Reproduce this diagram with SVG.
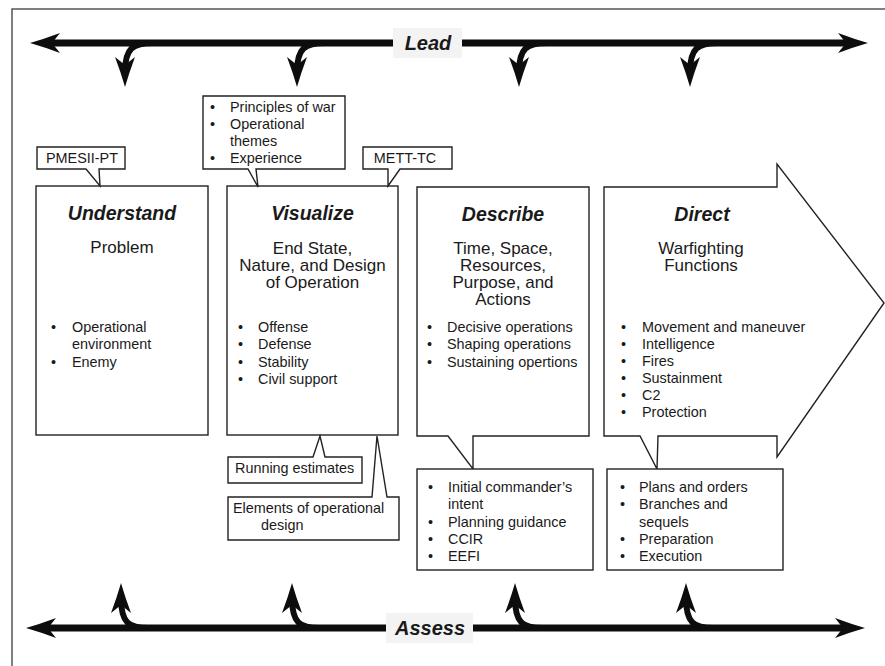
<svg xmlns="http://www.w3.org/2000/svg" xmlns:xlink="http://www.w3.org/1999/xlink" width="885" height="666" viewBox="0 0 885 666">
  <style>
    text { font-family: "Liberation Sans", Arial, sans-serif; fill: #1a1a1a; }
    .title { font-size: 19.5px; font-weight: bold; font-style: italic; text-anchor: middle; }
    .sub { font-size: 17px; text-anchor: middle; }
    .item { font-size: 14.4px; }
    .lbl { font-size: 14.4px; }
    .mid { text-anchor: middle; }
    .box { fill: #fff; stroke: #222; stroke-width: 1.4; stroke-linejoin: miter; }
    .frame { fill: #fff; stroke: #555; stroke-width: 1.5; }
    .shaft { fill: none; stroke: #0d0d0d; stroke-width: 7; }
    .stem { fill: none; stroke: #0d0d0d; stroke-width: 6; }
    .head { fill: #0d0d0d; }
    .tag { fill: #f3f3f3; }
    .cycle { font-size: 20px; font-weight: bold; font-style: italic; text-anchor: middle; }
  </style>
  <defs>
    <!-- arrowhead pointing along +x, tip at the origin -->
    <path id="head" class="head" d="M0,0 Q-14,-4 -30,-10 L-22,0 L-30,10 Q-14,4 0,0 Z"/>
  </defs>

  <rect class="frame" x="12" y="9" width="900" height="700"/>

  <!-- Lead / Assess cycle arrows -->
  <g id="connectors">
    <g id="lead-arrow">
      <line class="shaft" x1="52" y1="43" x2="393" y2="43"/>
      <line class="shaft" x1="462" y1="43" x2="846" y2="43"/>
      <use xlink:href="#head" transform="translate(30,43) rotate(180)"/>
      <use xlink:href="#head" transform="translate(868,43)"/>
      <path class="stem" d="M153,43 C133,43 125,48 125,72"/>
      <use xlink:href="#head" transform="translate(125,87) rotate(90)"/>
      <path class="stem" d="M325,43 C305,43 297,48 297,72"/>
      <use xlink:href="#head" transform="translate(297,87) rotate(90)"/>
      <path class="stem" d="M547,43 C527,43 519,48 519,72"/>
      <use xlink:href="#head" transform="translate(519,87) rotate(90)"/>
      <path class="stem" d="M718,43 C698,43 690,48 690,72"/>
      <use xlink:href="#head" transform="translate(690,87) rotate(90)"/>
      <rect class="tag" x="393" y="28" width="69" height="30"/>
      <text class="cycle" x="428" y="50">Lead</text>
    </g>
    <g id="assess-arrow">
      <line class="shaft" x1="48" y1="628" x2="386" y2="628"/>
      <line class="shaft" x1="473" y1="628" x2="843" y2="628"/>
      <use xlink:href="#head" transform="translate(26,628) rotate(180)"/>
      <use xlink:href="#head" transform="translate(865,628)"/>
      <path class="stem" d="M148,628 C129,628 121,623 121,598"/>
      <use xlink:href="#head" transform="translate(121,583) rotate(-90)"/>
      <path class="stem" d="M319,628 C300,628 292,623 292,598"/>
      <use xlink:href="#head" transform="translate(292,583) rotate(-90)"/>
      <path class="stem" d="M542,628 C523,628 515,623 515,598"/>
      <use xlink:href="#head" transform="translate(515,583) rotate(-90)"/>
      <path class="stem" d="M713,628 C694,628 686,623 686,598"/>
      <use xlink:href="#head" transform="translate(686,583) rotate(-90)"/>
      <rect class="tag" x="386" y="613" width="87" height="30"/>
      <text class="cycle" x="430" y="635">Assess</text>
    </g>
  </g>

  <!-- Understand -->
  <g id="understand">
    <rect class="box" x="36" y="186" width="172" height="249"/>
    <text class="title" x="122" y="220">Understand</text>
    <text class="sub" x="122" y="253">Problem</text>
    <text class="item"><tspan x="51" y="332">•</tspan><tspan x="72" y="332">Operational</tspan><tspan x="72" y="349.4">environment</tspan><tspan x="51" y="366.8">•</tspan><tspan x="72" y="366.8">Enemy</tspan></text>
  </g>

  <g id="pmesii">
    <path class="box" d="M37,147 L125,147 L125,169 L99,169 L100,186 L86,169 L37,169 Z"/>
    <text class="lbl mid" x="82" y="163">PMESII-PT</text>
  </g>

  <!-- Visualize -->
  <g id="visualize">
    <rect class="box" x="227" y="186" width="171" height="249"/>
    <text class="title" x="312.5" y="220">Visualize</text>
    <text class="sub"><tspan x="312.5" y="254">End State,</tspan><tspan x="312.5" y="271">Nature, and Design</tspan><tspan x="312.5" y="288">of Operation</tspan></text>
    <text class="item"><tspan x="238" y="332">•</tspan><tspan x="258" y="332">Offense</tspan><tspan x="238" y="349.4">•</tspan><tspan x="258" y="349.4">Defense</tspan><tspan x="238" y="366.8">•</tspan><tspan x="258" y="366.8">Stability</tspan><tspan x="238" y="384.2">•</tspan><tspan x="258" y="384.2">Civil support</tspan></text>
  </g>

  <g id="visualize-inputs">
    <path class="box" d="M203,96 L345,96 L345,169 L256,169 L258,187 L248,169 L203,169 Z"/>
    <text class="item"><tspan x="210" y="112">•</tspan><tspan x="230" y="112">Principles of war</tspan><tspan x="210" y="129">•</tspan><tspan x="230" y="129">Operational</tspan><tspan x="230" y="146">themes</tspan><tspan x="210" y="163">•</tspan><tspan x="230" y="163">Experience</tspan></text>
  </g>

  <g id="mett-tc">
    <path class="box" d="M363,147 L452,147 L452,169 L400,169 L388,186 L388,169 L363,169 Z"/>
    <text class="lbl mid" x="405" y="163">METT-TC</text>
  </g>

  <g id="running-estimates">
    <path class="box" d="M228,457 L313,457 L320,436 L325,457 L362,457 L362,483 L228,483 Z"/>
    <text class="lbl" x="235" y="473">Running estimates</text>
  </g>

  <g id="operational-design">
    <path class="box" d="M228,497 L372,497 L377,436 L387,497 L399,497 L399,540 L228,540 Z"/>
    <text class="lbl"><tspan x="233" y="513">Elements of operational</tspan><tspan x="261" y="530">design</tspan></text>
  </g>

  <!-- Describe -->
  <g id="describe">
    <path class="box" d="M417,187 L589,187 L589,436 L473,436 L473,469 L448,436 L417,436 Z"/>
    <text class="title" x="503" y="221">Describe</text>
    <text class="sub"><tspan x="503" y="254">Time, Space,</tspan><tspan x="503" y="271">Resources,</tspan><tspan x="503" y="288">Purpose, and</tspan><tspan x="503" y="305">Actions</tspan></text>
    <text class="item"><tspan x="427" y="332">•</tspan><tspan x="447" y="332">Decisive operations</tspan><tspan x="427" y="349.4">•</tspan><tspan x="447" y="349.4">Shaping operations</tspan><tspan x="427" y="366.8">•</tspan><tspan x="447" y="366.8">Sustaining opertions</tspan></text>
  </g>

  <g id="describe-products">
    <rect class="box" x="417" y="469" width="176" height="101"/>
    <text class="item"><tspan x="428" y="492">•</tspan><tspan x="448" y="492">Initial commander’s</tspan><tspan x="448" y="509.3">intent</tspan><tspan x="428" y="526.6">•</tspan><tspan x="448" y="526.6">Planning guidance</tspan><tspan x="428" y="543.9">•</tspan><tspan x="448" y="543.9">CCIR</tspan><tspan x="428" y="561.2">•</tspan><tspan x="448" y="561.2">EEFI</tspan></text>
  </g>

  <!-- Direct -->
  <g id="direct">
    <path class="box" d="M604,187 L777,187 L777,164 L884,303 L777,457 L777,436 L658,436 L657,469 L640,436 L604,436 Z"/>
    <text class="title" x="702" y="221">Direct</text>
    <text class="sub"><tspan x="701" y="254">Warfighting</tspan><tspan x="701" y="271">Functions</tspan></text>
    <text class="item"><tspan x="621" y="332">•</tspan><tspan x="642" y="332">Movement and maneuver</tspan><tspan x="621" y="349">•</tspan><tspan x="642" y="349">Intelligence</tspan><tspan x="621" y="366">•</tspan><tspan x="642" y="366">Fires</tspan><tspan x="621" y="383">•</tspan><tspan x="642" y="383">Sustainment</tspan><tspan x="621" y="400">•</tspan><tspan x="642" y="400">C2</tspan><tspan x="621" y="417">•</tspan><tspan x="642" y="417">Protection</tspan></text>
  </g>

  <g id="direct-products">
    <rect class="box" x="607" y="469" width="176" height="101"/>
    <text class="item"><tspan x="620" y="492">•</tspan><tspan x="639" y="492">Plans and orders</tspan><tspan x="620" y="509.3">•</tspan><tspan x="639" y="509.3">Branches and</tspan><tspan x="639" y="526.6">sequels</tspan><tspan x="620" y="543.9">•</tspan><tspan x="639" y="543.9">Preparation</tspan><tspan x="620" y="561.2">•</tspan><tspan x="639" y="561.2">Execution</tspan></text>
  </g>
</svg>
